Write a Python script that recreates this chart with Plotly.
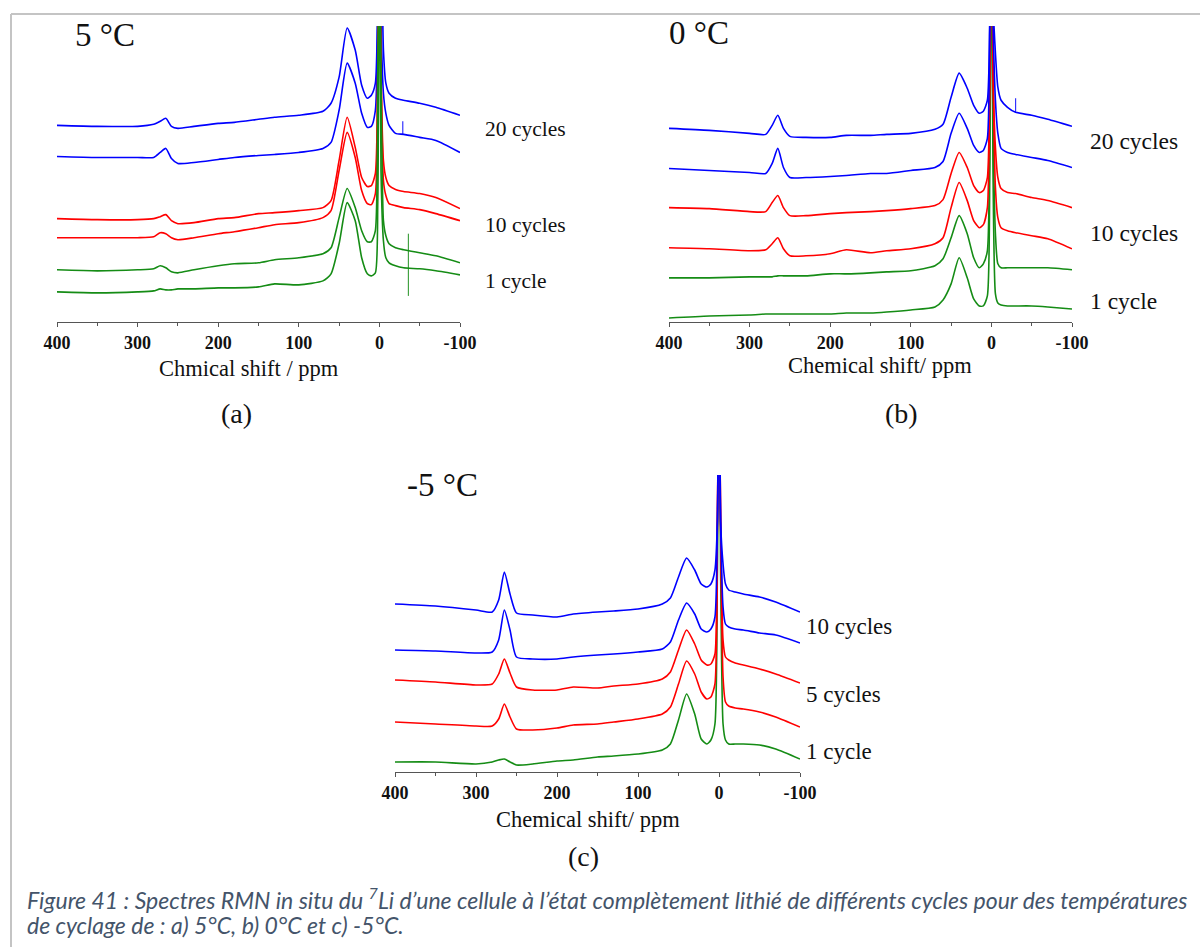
import plotly.graph_objects as go

# ---------------- DATA (chemical shift in ppm, intensity in arbitrary units incl. stacking offset) -------------
ppm_grid = [400, 350, 300, 280, 272, 265, 258, 250, 230, 200, 180, 150, 130, 100, 70, 60, 50, 40, 30, 22,
            15, 10, 5, 2, 0, -2, -5, -8, -12, -20, -30, -50, -70, -100]

# (a) 5 °C
a_20cyc_1 = [196, 195, 195, 197, 200, 203, 195, 193, 195, 198, 199, 202, 204, 206, 210, 218, 244, 293, 271, 236,
             223, 226, 238, 330, 420, 400, 271, 238, 228, 223, 221, 218, 214, 206]
a_20cyc_2 = [165, 164, 164, 164, 169, 173, 163, 158, 159, 162, 164, 166, 167, 169, 173, 179, 211, 258, 238, 208,
             194, 195, 211, 300, 420, 300, 228, 208, 196, 188, 187, 184, 181, 169]
a_10cyc_1 = [103, 102, 102, 103, 105, 107, 101, 98, 99, 103, 104, 108, 109, 111, 114, 121, 161, 204, 174, 144,
             135, 136, 148, 250, 420, 250, 161, 144, 136, 132, 130, 128, 124, 113]
a_10cyc_2 = [84, 84, 84, 85, 89, 88, 84, 82, 84, 88, 90, 94, 97, 99, 104, 111, 151, 189, 164, 131,
             118, 117, 128, 250, 420, 250, 141, 126, 118, 116, 114, 112, 108, 101]
a_1cyc_1 = [52, 51, 52, 53, 56, 54, 50, 49, 52, 56, 58, 59, 62, 64, 68, 74, 104, 133, 114, 91,
            80, 80, 91, 250, 420, 250, 101, 86, 78, 74, 72, 69, 66, 59]
a_1cyc_2 = [30, 29, 30, 31, 33, 32, 32, 33, 33, 34, 34, 35, 38, 37, 41, 48, 78, 119, 101, 64,
            48, 46, 49, 120, 420, 150, 81, 64, 59, 56, 54, 53, 51, 47]
# narrow artefact spikes in (a): ppm, low, high
a_spike_ppm = [-29, -36]
a_spike_lo = [187, 26]
a_spike_hi = [200, 88]

# (b) 0 °C
b_20cyc_1 = [193, 191, 188, 187, 196, 206, 193, 185, 184, 184, 186, 186, 187, 188, 192, 197, 224, 248, 233, 216,
             208, 210, 221, 300, 420, 320, 268, 234, 221, 214, 209, 206, 202, 195]
b_20cyc_2 = [153, 151, 149, 148, 158, 173, 154, 144, 144, 145, 146, 148, 148, 151, 154, 160, 188, 208, 193, 176,
             169, 171, 183, 300, 420, 300, 221, 188, 173, 169, 167, 164, 161, 154]
b_10cyc_1 = [114, 113, 110, 110, 119, 126, 114, 106, 106, 108, 109, 110, 111, 113, 116, 122, 148, 169, 154, 136,
             129, 131, 144, 250, 420, 250, 174, 144, 133, 129, 128, 124, 121, 114]
b_10cyc_2 = [74, 73, 71, 72, 78, 84, 73, 66, 66, 68, 72, 69, 71, 73, 78, 84, 114, 139, 121, 101,
             94, 97, 114, 250, 420, 250, 134, 104, 94, 91, 89, 86, 83, 73]
b_1cyc_1 = [44, 44, 45, 45, 45, 46, 46, 46, 46, 48, 48, 49, 50, 51, 56, 63, 84, 106, 88, 64,
            54, 58, 71, 200, 420, 200, 88, 58, 54, 54, 54, 54, 54, 52]
b_1cyc_2 = [4, 6, 7, 8, 8, 8, 8, 8, 8, 8, 9, 9, 10, 12, 15, 22, 38, 64, 44, 23,
            16, 16, 26, 150, 420, 150, 28, 19, 17, 16, 16, 16, 15, 13]
b_spike_ppm = [-30]
b_spike_lo = [209]
b_spike_hi = [223]

# (c) -5 °C
c_10cyc_1 = [168, 166, 162, 160, 172, 200, 178, 159, 157, 155, 158, 160, 161, 163, 168, 174, 195, 214, 202, 188,
             185, 188, 202, 250, 420, 250, 208, 188, 182, 180, 178, 175, 170, 160]
c_10cyc_2 = [122, 121, 119, 120, 132, 162, 142, 115, 113, 113, 115, 117, 118, 120, 123, 130, 152, 169, 158, 143,
             140, 143, 155, 250, 420, 250, 165, 148, 145, 143, 142, 139, 137, 129]
c_5cyc_1 = [92, 90, 87, 88, 98, 113, 99, 85, 82, 82, 85, 84, 86, 88, 93, 100, 122, 142, 128, 112,
            107, 108, 118, 250, 420, 250, 132, 115, 112, 109, 107, 103, 98, 89]
c_5cyc_2 = [50, 48, 46, 46, 53, 68, 55, 43, 42, 44, 47, 48, 50, 53, 58, 65, 88, 111, 98, 80,
            73, 75, 88, 250, 420, 250, 95, 70, 66, 64, 63, 60, 55, 45]
c_1cyc = [10, 10, 8, 10, 12, 13, 10, 7, 8, 11, 12, 15, 16, 18, 22, 28, 52, 78, 58, 33,
          28, 32, 48, 200, 420, 200, 48, 32, 28, 28, 28, 27, 23, 13]

tick_vals = [400, 300, 200, 100, 0, -100]
tick_text = ["400", "300", "200", "100", "0", "-100"]
minor_vals = [350, 250, 150, 50, -50]

labels_a = ["20 cycles", "10 cycles", "1 cycle"]
labels_b = ["20 cycles", "10 cycles", "1 cycle"]
labels_c = ["10 cycles", "5 cycles", "1 cycle"]
temps = ["5 °C", "0 °C", "-5 °C"]
panel_letters = ["(a)", "(b)", "(c)"]
axis_titles = ["Chmical shift / ppm", "Chemical shift/ ppm", "Chemical shift/ ppm"]
caption_1 = ("Figure 41 : Spectres RMN in situ du <sup>7</sup>Li d’une cellule à l’état complètement lithié "
             "de différents cycles pour des températures")
caption_2 = "de cyclage de : a) 5°C, b) 0°C et c) -5°C."

# ---------------- STYLE ----------------
W, H = 1200, 947
BLUE, RED, GREEN = "#0000ff", "#ff0000", "#158c15"
SERIF = "Liberation Serif, Times New Roman, serif"


def px(x):
    return x / W


def py(y):
    return 1 - y / H


fig = go.Figure()

panels = [
    ("x", "y", [(a_20cyc_1, BLUE), (a_20cyc_2, BLUE), (a_10cyc_1, RED), (a_10cyc_2, RED),
                (a_1cyc_1, GREEN), (a_1cyc_2, GREEN)],
     (a_spike_ppm, a_spike_lo, a_spike_hi, [BLUE, GREEN])),
    ("x2", "y2", [(b_1cyc_1, GREEN), (b_1cyc_2, GREEN), (b_10cyc_1, RED), (b_10cyc_2, RED),
                  (b_20cyc_1, BLUE), (b_20cyc_2, BLUE)],
     (b_spike_ppm, b_spike_lo, b_spike_hi, [BLUE])),
    ("x3", "y3", [(c_1cyc, GREEN), (c_5cyc_1, RED), (c_5cyc_2, RED),
                  (c_10cyc_1, BLUE), (c_10cyc_2, BLUE)], None),
]
for xa, ya, series, spikes in panels:
    for vals, col in series:
        fig.add_trace(go.Scatter(x=ppm_grid, y=vals, mode="lines", xaxis=xa, yaxis=ya,
                                 line=dict(color=col, width=1.6, shape="spline", smoothing=0.6),
                                 showlegend=False, hoverinfo="skip"))
    if spikes:
        for p, lo, hi, col in zip(*spikes):
            fig.add_trace(go.Scatter(x=[p, p], y=[lo, hi], mode="lines", xaxis=xa, yaxis=ya,
                                     line=dict(color=col, width=1.2), opacity=0.8,
                                     showlegend=False, hoverinfo="skip"))

xdom = [[px(57), px(460)], [px(669), px(1072)], [px(395), px(800)]]
ydom = [[py(322), py(26)], [py(322), py(26)], [py(772), py(475)]]
ytop = [295, 295, 297]

layout = dict(width=W, height=H, autosize=False, margin=dict(l=0, r=0, t=0, b=0, pad=0),
              template="none",
              paper_bgcolor="white", plot_bgcolor="rgba(0,0,0,0)", showlegend=False)
for i in range(3):
    sx = "" if i == 0 else str(i + 1)
    layout["xaxis" + sx] = dict(
        domain=xdom[i], range=[400, -100], anchor="y" + sx, automargin=False,
        showline=True, linecolor="#555555", linewidth=1.2, showgrid=False, zeroline=False,
        ticks="outside", ticklen=4, tickwidth=1.2, tickcolor="#555555",
        tickvals=tick_vals, ticktext=tick_text,
        tickfont=dict(family=SERIF, size=18, color="#111111", weight="bold"),
        minor=dict(tickvals=minor_vals, ticks="outside", ticklen=3, tickwidth=1, tickcolor="#555555",
                   showgrid=False),
    )
    layout["yaxis" + sx] = dict(domain=ydom[i], range=[0, ytop[i]], anchor="x" + sx, visible=False,
                                automargin=False)
fig.update_layout(**layout)

ann = []


def txt(x, y, s, size, xanchor="center", family=SERIF, color="#111111", italic=False):
    ann.append(dict(x=px(x), y=py(y), xref="paper", yref="paper", text=s, showarrow=False,
                    xanchor=xanchor, yanchor="middle",
                    font=dict(family=family, size=size, color=color,
                              style="italic" if italic else "normal")))


# temperature labels
txt(73, 35, temps[0], 33, "left")
txt(667, 33, temps[1], 33, "left")
txt(405, 485, temps[2], 33, "left")
# cycle labels
for s, y in zip(labels_a, [129, 225, 281]):
    txt(483, y, s, 21.5, "left")
for s, y in zip(labels_b, [141, 233, 301]):
    txt(1088, y, s, 23.5, "left")
for s, y in zip(labels_c, [626, 694, 751]):
    txt(804, y, s, 23, "left")
# axis titles
txt(249, 368, axis_titles[0], 22.5)
txt(880, 365, axis_titles[1], 22.5)
txt(588, 819, axis_titles[2], 22.5)
# panel letters
txt(236, 413, panel_letters[0], 28)
txt(901, 413, panel_letters[1], 28)
txt(583, 856, panel_letters[2], 28)
# caption
CAP = "Liberation Sans Narrow, Lato, sans-serif"
txt(25, 898, caption_1, 23, "left", family=CAP, color="#44546a", italic=True)
txt(25, 925, caption_2, 23, "left", family=CAP, color="#44546a", italic=True)

fig.update_layout(annotations=ann)

# page frame
fig.add_shape(type="line", xref="paper", yref="paper", x0=px(11), x1=1.0, y0=py(14), y1=py(14),
              line=dict(color="#c4c4c4", width=2))
fig.add_shape(type="line", xref="paper", yref="paper", x0=px(11), x1=px(11), y0=py(14), y1=0,
              line=dict(color="#c4c4c4", width=2))

fig.write_html("out.html", config={"displayModeBar": False},
               post_script="document.body.style.margin='0';document.body.style.overflow='hidden';")
